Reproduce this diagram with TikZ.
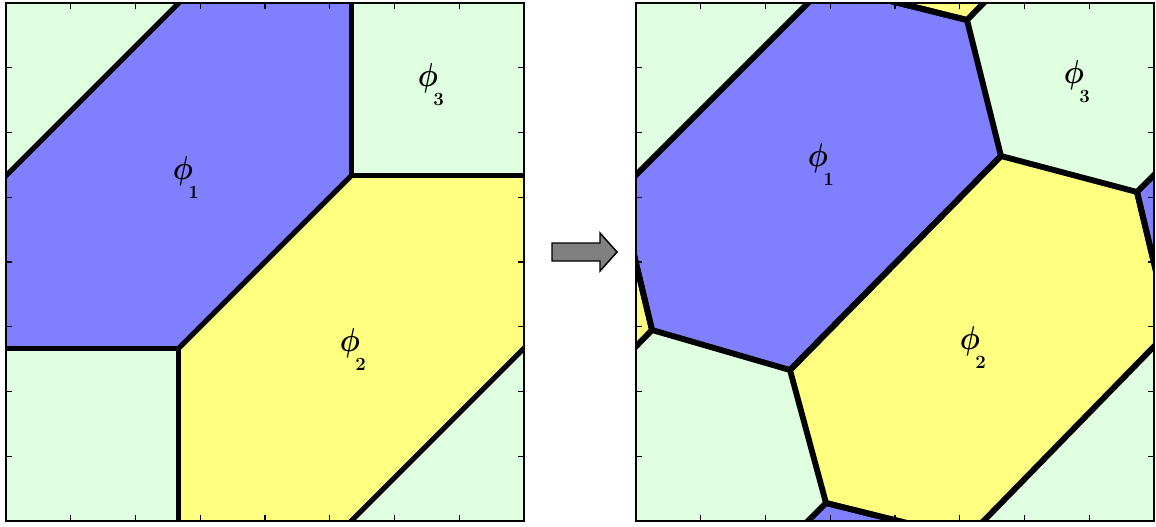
\documentclass[tikz,border=0pt]{standalone}
\usepackage{amsmath}
\usepackage{tikz}
\usetikzlibrary{calc}
\definecolor{cellblue}{RGB}{128,128,255}
\definecolor{cellyellow}{RGB}{255,255,128}
\definecolor{cellgreen}{RGB}{224,255,224}
\tikzset{wall/.style={line width=3.9pt,line cap=rect,line join=round},
  thickwall/.style={wall,line width=4.4pt},
  frame/.style={line width=2.2pt},
  tickmark/.style={line width=0.8pt},
  phiglyph/.style={inner sep=0pt,anchor=base,font=\fontsize{38}{38}\selectfont},
  subdigit/.style={inner sep=0pt,anchor=base west,font=\fontsize{14}{14}\selectfont\bfseries}}
\newcommand\phaselabel[4]{%
  \node[phiglyph] (#1) at (#2,#3+11) {\scalebox{0.85}[1]{$\boldsymbol{\phi}$}};
  \node[subdigit] (#1sub) at ([shift={(5,19)}]#1.base) {#4};}

\begin{document}
\begin{tikzpicture}[x=0.75pt,y=-0.75pt]
\useasboundingbox (0,0) rectangle (1156,526);
% Avant : cellules à bords droits
\begin{scope}[shift={(6,3)}]
\clip (0,0) rectangle (518,518);
\fill[cellgreen] (0,0) rectangle (518,518);
\fill[cellblue] (172.7,0)--(345.3,0)--(345.3,172.7)--(172.7,345.3)--(0,345.3)--(0,172.7)--cycle;
\fill[cellyellow] (345.3,518)--(172.7,518)--(172.7,345.3)--(345.3,172.7)--(518,172.7)--(518,345.3)--cycle;
\draw[wall] (345.3,0)--(345.3,172.7)--(518,172.7);
\draw[wall] (345.3,172.7)--(172.7,345.3);
\draw[wall] (0,345.3)--(172.7,345.3)--(172.7,518);
\draw[wall] (0,172.7)--(172.7,0);
\draw[wall] (345.3,518)--(518,345.3);
\end{scope}
% Après : cellules périodiques relaxées
\begin{scope}[shift={(636,3)}]
\clip (0,0) rectangle (518,518);
\foreach \i in {-1,0,1}{\foreach \j in {-1,0,1}{
\begin{scope}[shift={(\i*518,\j*518)}]
\fill[cellblue] (154,367)--(16,327)--(-17,189)--(190,-18)--(331,17)--(365,153)--cycle;
\fill[cellyellow] (365,153)--(501,189)--(534,327)--(331,535)--(190,500)--(154,367)--cycle;
\fill[cellgreen] (16,327)--(154,367)--(190,500)--(-17,707)--(-153,671)--(-187,535)--cycle;
\end{scope}}}
\foreach \i in {-1,0,1}{\foreach \j in {-1,0,1}{
\begin{scope}[shift={(\i*518,\j*518)}]
\draw[thickwall] (154,367)--(16,327)--(-17,189)--(190,-18)--(331,17)--(365,153)--cycle;
\draw[thickwall] (365,153)--(501,189)--(534,327)--(331,535)--(190,500)--(154,367)--cycle;
\end{scope}}}
\end{scope}
% Cadres et graduations
\foreach \x in {6,636}{
\begin{scope}[shift={(\x,3)}]
\foreach \k in {1,...,7}{
\draw[tickmark] (\k*64.75,0)--++(0,6);
\draw[tickmark] (\k*64.75,518)--++(0,-6);
\draw[tickmark] (0,\k*64.75)--++(6,0);
\draw[tickmark] (518,\k*64.75)--++(-6,0);}
\draw[frame] (0,0) rectangle (518,518);
\end{scope}}
\phaselabel{phione}{183}{168}{1}
\phaselabel{phitwo}{350}{340}{2}
\phaselabel{phithree}{428}{75}{3}
\phaselabel{phionebis}{818}{155}{1}
\phaselabel{phitwobis}{970}{338}{2}
\phaselabel{phithreebis}{1074}{72}{3}
\draw[line width=1.1pt,fill=black!50,line join=miter] (552,243)--(600,243)--(600,233)--(617,252)--(600,271)--(600,261)--(552,261)--cycle;
\end{tikzpicture}
\end{document}
